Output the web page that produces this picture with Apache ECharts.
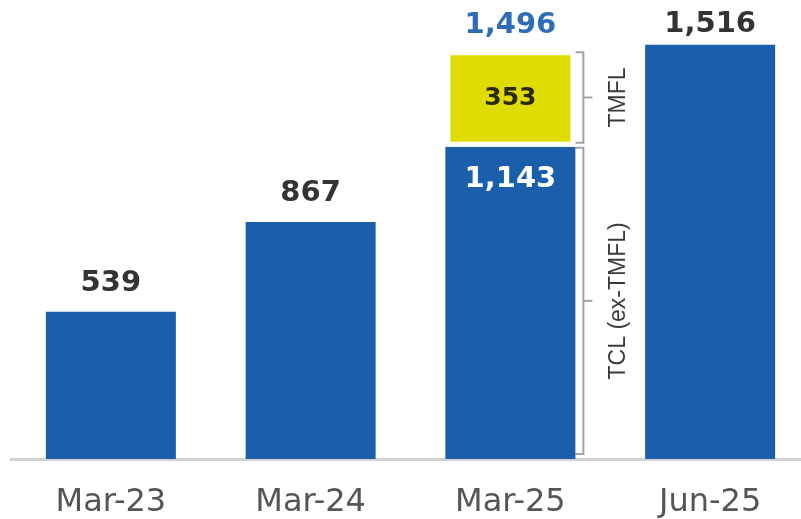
<!DOCTYPE html>
<html>
<head>
<meta charset="utf-8">
<script src="https://cdn.jsdelivr.net/npm/echarts@6/dist/echarts.min.js"></script>
<style>
  html, body { margin: 0; padding: 0; background: #ffffff; overflow: hidden; }
  #chart { width: 810px; height: 519px; }
</style>
</head>
<body>
<div id="chart"></div>
<script>
// ---- data ----
const categories = ['Mar-23', 'Mar-24', 'Mar-25', 'Jun-25'];
const tclValues = [539, 867, 1143, 1516];          // blue bars (TCL ex-TMFL for Mar-25)
const tmflValues = [null, null, 353, null];        // yellow TMFL segment
const bracketTexts = { tmfl: 'TMFL', tcl: 'TCL (ex-TMFL)' };

const BLUE = '#1b5eab';
const YELLOW = '#e0db00';
const fmt = v => Number(v).toLocaleString('en-US');
const totalData = categories.map((c, i) => tmflValues[i] == null ? '-' : 0);
const maxVal = Math.max(...tclValues);

const chart = echarts.init(document.getElementById('chart'), null, { renderer: 'canvas' });

const labelFont = { fontFamily: 'DejaVu Sans', fontWeight: 'bold', fontSize: 29 };

chart.setOption({
  animation: false,
  backgroundColor: '#ffffff',
  grid: { left: 11, right: 0, top: 0, bottom: 59 },
  xAxis: {
    type: 'category',
    data: categories,
    axisTick: { show: false },
    axisLine: { lineStyle: { color: '#d2d2d2', width: 3 } },
    axisLabel: { color: '#555555', fontFamily: 'DejaVu Sans', fontSize: 32, margin: 28 }
  },
  yAxis: { type: 'value', min: 0, max: 1680, show: false, splitLine: { show: false } },
  series: [
    {
      type: 'bar', name: 'TCL', stack: 's', barWidth: 130,
      itemStyle: { color: BLUE },
      data: tclValues.map((v, i) => {
        const inside = tmflValues[i] != null;
        return {
          value: v,
          label: inside
            ? { show: true, position: 'insideTop', distance: 18, color: '#ffffff', ...labelFont, formatter: p => fmt(p.value) }
            : { show: true, position: 'top', distance: v === maxVal ? 6 : 14, color: '#333333', ...labelFont, formatter: p => fmt(p.value) }
        };
      })
    },
    {
      type: 'bar', name: 'TMFL', stack: 's', barWidth: 130,
      itemStyle: { color: YELLOW, borderColor: '#ffffff', borderWidth: 5 },
      label: { show: true, position: 'inside', color: '#2a2a00', fontFamily: 'DejaVu Sans', fontWeight: 'bold', fontSize: 25, formatter: p => fmt(p.value) },
      data: tmflValues.map(v => v == null ? '-' : v)
    },
    {
      type: 'bar', name: 'Total', stack: 's', barWidth: 130,
      itemStyle: { color: 'transparent' },
      label: {
        show: true, position: 'top', distance: 10, color: '#2e6db5', ...labelFont,
        formatter: p => fmt(tclValues[p.dataIndex] + tmflValues[p.dataIndex])
      },
      data: totalData
    }
  ]
});

// brackets computed from the library's scales
function drawBrackets() {
  const idx = tmflValues.findIndex(v => v != null);
  if (idx < 0) return;
  const cx = chart.convertToPixel({ xAxisIndex: 0 }, categories[idx]);
  const y0 = chart.convertToPixel({ yAxisIndex: 0 }, 0);
  const yTcl = chart.convertToPixel({ yAxisIndex: 0 }, tclValues[idx]);
  const yTot = chart.convertToPixel({ yAxisIndex: 0 }, tclValues[idx] + tmflValues[idx]);
  const bx = cx + 65 + 8;
  const stroke = { stroke: '#a3a3a3', lineWidth: 2, fill: null };
  function bracket(yTop, yBot) {
    const ym = (yTop + yBot) / 2;
    return [
      { type: 'polyline', shape: { points: [[bx - 8, yTop], [bx, yTop], [bx, yBot], [bx - 8, yBot]] }, style: stroke, silent: true },
      { type: 'line', shape: { x1: bx, y1: ym, x2: bx + 9, y2: ym }, style: stroke, silent: true }
    ];
  }
  function vtext(t, yTop, yBot) {
    return {
      type: 'text', x: bx + 35, y: (yTop + yBot) / 2, rotation: Math.PI / 2, silent: true,
      style: { text: t, fill: '#3a3a3a', fontFamily: 'Liberation Sans', fontSize: 23, align: 'center', verticalAlign: 'middle' }
    };
  }
  const tmTop = yTot + 2, tmBot = yTcl - 4;
  const tcTop = yTcl + 1, tcBot = y0 - 5;
  chart.setOption({
    graphic: [
      ...bracket(tmTop, tmBot), vtext(bracketTexts.tmfl, tmTop, tmBot),
      ...bracket(tcTop, tcBot), vtext(bracketTexts.tcl, tcTop, tcBot)
    ]
  });
}
drawBrackets();
</script>
</body>
</html>
